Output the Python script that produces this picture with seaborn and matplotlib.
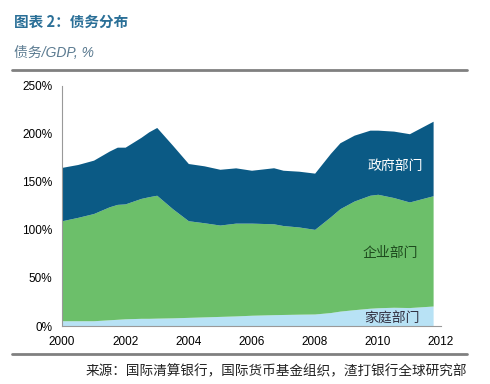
import matplotlib
matplotlib.use("Agg")
import matplotlib.pyplot as plt
import seaborn as sns
from matplotlib.lines import Line2D

# decimal years
years = [2000.0, 2000.5, 2001.0, 2001.5, 2001.75, 2002.0, 2002.5, 2002.75, 2003.0,
         2003.5, 2004.0, 2004.5, 2005.0, 2005.5, 2006.0, 2006.7, 2007.0, 2007.5,
         2008.0, 2008.5, 2008.8, 2009.25, 2009.75, 2010.0, 2010.5, 2011.0, 2011.75]
# sector debt, % of GDP
household = [5.5, 5.5, 5.5, 6.5, 7.0, 7.5, 8.0, 8.0, 8.2,
             8.5, 9.0, 9.5, 10.0, 10.5, 11.2, 11.8, 12.0, 12.3,
             12.5, 14.0, 15.5, 17.0, 18.5, 19.0, 19.5, 19.2, 20.8]
corporate = [104.0, 107.5, 111.5, 117.5, 119.5, 119.5, 124.7, 126.5, 127.8,
             113.5, 100.5, 97.9, 95.0, 96.5, 95.8, 94.5, 92.5, 90.7,
             88.0, 99.6, 106.5, 113.0, 117.5, 118.0, 114.1, 109.8, 114.7]
government = [55.5, 55.0, 55.5, 58.0, 59.5, 59.0, 63.5, 67.5, 70.5,
              66.0, 59.5, 59.2, 58.0, 57.5, 55.0, 58.3, 57.5, 58.0,
              58.5, 66.0, 68.6, 68.5, 67.7, 66.7, 69.1, 71.0, 77.5]
xticks = [2000, 2002, 2004, 2006, 2008, 2010, 2012]
yticks = [0, 50, 100, 150, 200, 250]

sns.set_style("white")
plt.rcParams['font.family'] = ['Liberation Sans', 'Noto Sans CJK SC', 'DejaVu Sans']
cjk = ['Noto Sans CJK SC', 'DejaVu Sans']

fig = plt.figure(figsize=(4.9, 3.84), dpi=100)
ax = fig.add_axes([0.1265, 0.151, 0.7735, 0.626])

ax.stackplot(years, household, corporate, government,
             colors=['#b8e2f5', '#6cbf6a', '#0b5a85'], linewidth=0)

ax.set_xlim(2000, 2012)
ax.set_ylim(0, 250)
ax.set_xticks(xticks)
ax.set_yticks(yticks)
ax.set_yticklabels([f"{v}%" for v in yticks])
ax.tick_params(axis='both', labelsize=8.5, colors='#888888', labelcolor='black',
               direction='out', length=4, width=0.8)
ax.tick_params(axis='x', pad=3)
ax.tick_params(axis='y', pad=3)
sns.despine(ax=ax)
for side in ['left', 'bottom']:
    ax.spines[side].set_color('#999999')
    ax.spines[side].set_linewidth(0.8)

ax.text(2010.55, 167, "政府部门", color='white', fontsize=10, family=cjk,
        ha='center', va='center')
ax.text(2010.4, 76, "企业部门", color='#1d4a1d', fontsize=10, family=cjk,
        ha='center', va='center')
ax.text(2010.45, 8, "家庭部门", color='#333344', fontsize=10, family=cjk,
        ha='center', va='center')

fig.text(0.028, 0.942, "图表 2：债务分布", color='#2a6f97', fontsize=10.5,
         fontweight='bold', family=cjk, va='center')
fig.text(0.028, 0.862, "债务/GDP, %", color='#5a7a90', fontsize=10,
         style='italic', family=['Liberation Sans', 'Noto Sans CJK SC'], va='center')

fig.add_artist(Line2D([0.025, 0.953], [0.818, 0.818], color='#808080', lw=2,
                      transform=fig.transFigure))
fig.add_artist(Line2D([0.025, 0.953], [0.079, 0.079], color='#808080', lw=2,
                      transform=fig.transFigure))
fig.text(0.953, 0.032, "来源：国际清算银行，国际货币基金组织，渣打银行全球研究部",
         color='#222222', fontsize=9.8, family=cjk, ha='right', va='center')

fig.savefig("out.png", dpi=100)
